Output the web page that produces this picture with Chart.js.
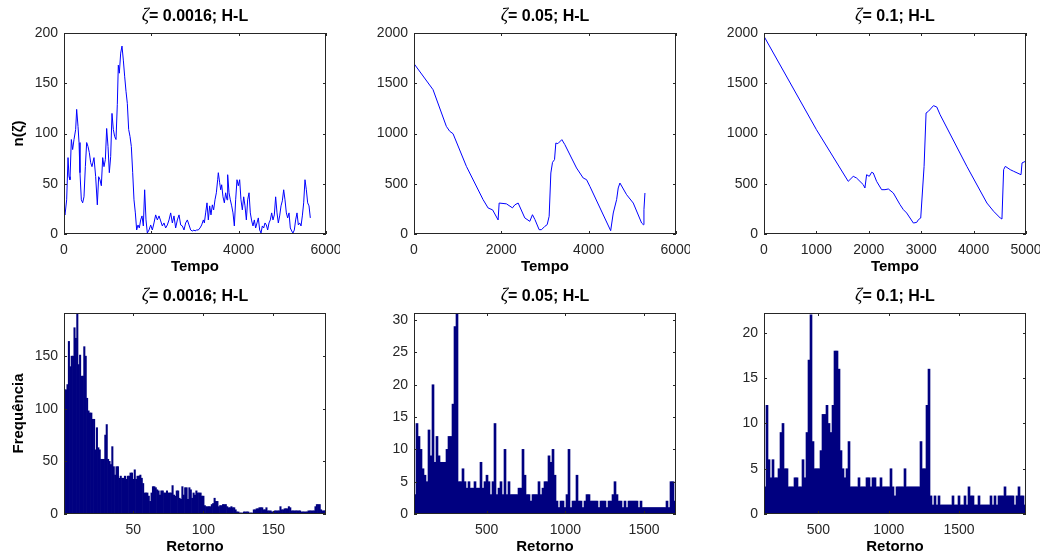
<!DOCTYPE html>
<html>
<head>
<meta charset="utf-8">
<script src="https://cdn.jsdelivr.net/npm/chart.js"></script>
<style>
  body { margin: 0; background: #fff; }
  #fig { position: relative; width: 1046px; height: 557px; overflow: hidden; font-family: "Liberation Sans", Arial, sans-serif; }
  #fig canvas { position: absolute; }
  .ttl { position: absolute; width: 262px; text-align: center; font-size: 16px; font-weight: bold; line-height: 18px; color: #000; white-space: nowrap; }
  .ttl i { font-family: "Liberation Serif", "DejaVu Serif", serif; font-weight: normal; font-size: 18px; }
</style>
</head>
<body>
<div id="fig">
  <canvas id="c1" width="340" height="280" style="left:0;top:0"></canvas>
  <canvas id="c2" width="340" height="280" style="left:350px;top:0"></canvas>
  <canvas id="c3" width="340" height="280" style="left:700px;top:0"></canvas>
  <canvas id="c4" width="340" height="280" style="left:0;top:280px"></canvas>
  <canvas id="c5" width="340" height="280" style="left:350px;top:280px"></canvas>
  <canvas id="c6" width="340" height="280" style="left:700px;top:280px"></canvas>
  <div class="ttl" style="left:64px;top:6px"><i>ζ</i>= 0.0016; H-L</div>
  <div class="ttl" style="left:414px;top:6px"><i>ζ</i>= 0.05; H-L</div>
  <div class="ttl" style="left:764px;top:6px"><i>ζ</i>= 0.1; H-L</div>
  <div class="ttl" style="left:64px;top:286px"><i>ζ</i>= 0.0016; H-L</div>
  <div class="ttl" style="left:414px;top:286px"><i>ζ</i>= 0.05; H-L</div>
  <div class="ttl" style="left:764px;top:286px"><i>ζ</i>= 0.1; H-L</div>
</div>
<script>
// ---- series temporais n(zeta) x Tempo (linha de cima) ----
const tempo1 = [0, 23, 61, 92, 115, 137, 168, 198, 229, 267, 290, 321, 344, 366, 397, 427, 458, 489, 519, 550,
  580, 611, 641, 687, 725, 763, 794, 824, 855, 886, 916, 947, 977, 1008, 1038, 1069, 1099, 1130, 1160, 1191,
  1221, 1244, 1267, 1298, 1328, 1359, 1389, 1420, 1450, 1481, 1512, 1542, 1573, 1603, 1634, 1664, 1695, 1725, 1756, 1786,
  1817, 1847, 1878, 1908, 1947, 1985, 2023, 2061, 2099, 2138, 2176, 2214, 2252, 2290, 2328, 2367, 2405, 2443, 2481, 2519,
  2557, 2596, 2634, 2672, 2710, 2748, 2786, 2825, 2863, 2901, 2939, 2977,
  3000, 3038, 3076, 3115, 3153, 3191, 3214, 3244, 3275, 3305, 3336, 3366, 3397, 3427, 3458, 3489, 3519, 3534, 3565, 3588,
  3611, 3641, 3672, 3702, 3733, 3748, 3779, 3809, 3840, 3870, 3901, 3931, 3962, 3992, 4023, 4053, 4084, 4115, 4145, 4176,
  4206, 4237, 4267, 4298, 4328, 4359, 4389, 4420, 4450, 4481, 4512, 4542, 4573, 4603, 4634, 4664, 4695, 4725, 4756, 4786,
  4817, 4847, 4878, 4908, 4939, 4970, 5000, 5031, 5061, 5092, 5122, 5153, 5183, 5214, 5244, 5275, 5305, 5336, 5367, 5397,
  5428, 5458, 5489, 5519, 5550, 5580, 5611, 5641];
const n1 = [22, 19, 34, 76, 57, 54, 94, 84, 94, 104, 124, 107, 91, 61, 34, 31, 37, 67, 91, 87,
  81, 71, 67, 76, 57, 29, 57, 54, 48, 76, 67, 74, 105, 87, 61, 77, 120, 104, 97, 94,
  129, 168, 160, 180, 187, 173, 157, 142, 130, 104, 97, 87, 61, 34, 21, 4, 9, 6, 14, 18,
  8, 44, 14, 1, 4, 9, 4, 11, 19, 14, 18, 13, 8, 11, 6, 9, 14, 21, 11, 18,
  6, 14, 19, 9, 8, 4, 11, 14, 9, 4, 3, 4,
  3, 4, 4, 6, 9, 14, 11, 21, 31, 14, 28, 19, 29, 24, 34, 41, 54, 61, 51, 44,
  49, 37, 31, 41, 34, 59, 41, 34, 28, 21, 8, 34, 54, 48, 54, 34, 24, 37, 28, 14,
  34, 41, 21, 13, 8, 14, 6, 11, 16, 4, 1, 8, 6, 11, 9, 4, 11, 14, 21, 14,
  19, 37, 21, 11, 18, 28, 33, 44, 34, 21, 16, 21, 6, 3, 1, 4, 14, 21, 9, 11,
  8, 18, 31, 54, 44, 31, 28, 16];

const tempo2 = [0, 436, 741, 818, 894, 1200, 1582, 1697, 1800, 1926, 1950, 2117, 2255, 2310, 2385, 2537, 2652, 2713, 2770, 2866,
  2920, 2996, 3050, 3095, 3134, 3172, 3218, 3248, 3294, 3386, 3455, 3722, 3875, 3951, 4028, 4504, 4563, 4640, 4677, 4716,
  4869, 5021, 5213, 5251, 5266, 5289];
const n2 = [1695, 1436, 1071, 1022, 998, 673, 342, 259, 240, 140, 308, 300, 260, 290, 308, 160, 126, 192, 143, 43,
  43, 76, 93, 176, 607, 713, 740, 905, 899, 939, 889, 657, 557, 541, 474, 33, 209, 342, 458, 507,
  391, 308, 109, 93, 242, 408];

const tempo3 = [0, 1001, 1607, 1703, 1767, 1894, 1926, 1958, 2009, 2054, 2086, 2149, 2245, 2309, 2373, 2468, 2596, 2660, 2723, 2851,
  2915, 2947, 2991, 3055, 3093, 3138, 3234, 3297, 3361, 3871, 4254, 4382, 4509, 4541, 4573, 4605, 4700, 4764, 4905, 4924, 4988];
const n3 = [1967, 1038, 524, 574, 557, 491, 458, 590, 574, 614, 607, 524, 441, 441, 448, 408, 292, 242, 209, 109,
  116, 143, 159, 673, 1204, 1221, 1277, 1264, 1187, 673, 308, 226, 159, 149, 640, 673, 640, 624, 590, 707, 723];

// ---- histogramas Frequência x Retorno (linha de baixo) ----
const freq1 = [118, 118, 123, 164, 140, 150, 150, 177, 167, 191, 142, 151, 131, 131, 159, 150, 110, 98, 96, 96,
  90, 90, 61, 82, 63, 61, 52, 52, 52, 75, 85, 52, 50, 47, 64, 45, 37, 45, 45, 34,
  36, 34, 34, 36, 33, 36, 36, 39, 39, 33, 42, 33, 36, 36, 37, 34, 29, 20, 20, 20,
  17, 12, 20, 26, 26, 25, 23, 22, 18, 22, 22, 20, 20, 22, 20, 20, 20, 27, 18, 17,
  22, 22, 15, 14, 26, 18, 25, 25, 14, 25, 23, 15, 20, 18, 22, 20, 20, 20, 17, 17,
  8, 7, 7, 7, 7, 9, 10, 15, 12, 12, 7, 8, 8, 9, 9, 9, 7, 6, 6, 7,
  6, 6, 4, 2, 2, 1, 1, 1, 2, 2, 2, 2, 1, 1, 1, 4, 4, 5, 5, 6,
  6, 6, 4, 4, 6, 3, 3, 3, 2, 2, 3, 3, 3, 3, 7, 4, 4, 5, 5, 5,
  7, 6, 3, 3, 3, 3, 3, 3, 3, 2, 2, 2, 2, 2, 3, 3, 3, 3, 3, 7,
  9, 9, 9, 4, 3, 3, 3];
const ret1 = { inicio: 0.5, largura: 1 };

const freq2 = [3, 14, 12, 10, 7, 6, 5, 13, 9, 20, 8, 12, 9, 8, 8, 8, 10, 12, 12, 17,
  29, 31, 5, 5, 7, 5, 4, 5, 4, 4, 5, 4, 4, 8, 4, 5, 6, 5, 3, 5,
  14, 3, 4, 5, 3, 10, 3, 5, 3, 3, 3, 3, 4, 4, 10, 6, 3, 3, 2, 3,
  3, 3, 5, 3, 4, 5, 5, 9, 8, 10, 6, 2, 1, 2, 2, 1, 3, 10, 1, 2,
  2, 6, 2, 2, 1, 2, 3, 3, 2, 2, 2, 2, 1, 2, 2, 2, 1, 2, 2, 3,
  5, 3, 2, 2, 1, 2, 1, 2, 2, 2, 2, 2, 1, 2, 1, 1, 1, 1, 1, 1,
  1, 1, 1, 1, 1, 1, 2, 1, 5, 5, 2];
const ret2 = { inicio: 38, largura: 12.71 };

const freq3 = [3, 12, 6, 4, 6, 4, 4, 5, 9, 10, 5, 5, 3, 3, 3, 4, 4, 3, 3, 6,
  4, 9, 17, 22, 8, 5, 5, 5, 7, 11, 11, 12, 10, 9, 12, 18, 18, 16, 7, 5,
  4, 5, 8, 3, 3, 3, 3, 4, 3, 3, 3, 4, 4, 3, 4, 4, 3, 3, 4, 3,
  3, 3, 3, 5, 3, 2, 3, 3, 3, 3, 5, 3, 3, 3, 3, 3, 3, 3, 8, 5,
  5, 12, 16, 2, 1, 2, 1, 2, 1, 1, 1, 1, 1, 1, 2, 1, 1, 2, 1, 1,
  2, 1, 3, 2, 2, 1, 1, 2, 1, 1, 1, 1, 1, 2, 1, 2, 1, 2, 2, 2,
  3, 2, 2, 2, 2, 1, 2, 3, 2, 2, 1];
const ret3 = { inicio: 114, largura: 14.21 };

// ---- marcas dos eixos ----
const tempoTicks12 = [0, 2000, 4000, 6000];
const tempoTicks3 = [0, 1000, 2000, 3000, 4000, 5000];
const nTicks1 = [0, 50, 100, 150, 200];
const nTicks23 = [0, 500, 1000, 1500, 2000];
const retTicks1 = [50, 100, 150];
const retTicks23 = [500, 1000, 1500];
const freqTicks1 = [0, 50, 100, 150];
const freqTicks2 = [0, 5, 10, 15, 20, 25, 30];
const freqTicks3 = [0, 5, 10, 15, 20];

Chart.defaults.font.family = '"Liberation Sans", Arial, sans-serif';
Chart.defaults.color = '#262626';
Chart.defaults.animation = false;

// moldura estilo MATLAB: caixa + marcas para dentro nos quatro lados
const moldura = {
  id: 'moldura',
  afterDatasetsDraw(chart) {
    const { ctx, chartArea: a, scales: { x, y } } = chart;
    const L = 3;
    ctx.save();
    ctx.strokeStyle = '#262626';
    ctx.lineWidth = 1;
    ctx.beginPath();
    x.ticks.forEach(t => {
      const px = Math.round(x.getPixelForValue(t.value)) + 0.5;
      ctx.moveTo(px, a.bottom); ctx.lineTo(px, a.bottom - L);
      ctx.moveTo(px, a.top); ctx.lineTo(px, a.top + L);
    });
    y.ticks.forEach(t => {
      const py = Math.round(y.getPixelForValue(t.value)) + 0.5;
      ctx.moveTo(a.left, py); ctx.lineTo(a.left + L, py);
      ctx.moveTo(a.right, py); ctx.lineTo(a.right - L, py);
    });
    ctx.stroke();
    ctx.strokeRect(Math.round(a.left) + 0.5, Math.round(a.top) + 0.5,
      Math.round(a.right - a.left) - 1, Math.round(a.bottom - a.top) - 1);
    ctx.restore();
  }
};

function eixos(xMin, xMax, xTicks, xTitulo, yMin, yMax, yTicks, yTitulo) {
  return {
    x: {
      type: 'linear', min: xMin, max: xMax, offset: false,
      grid: { display: false, drawTicks: false }, border: { display: false },
      ticks: { font: { size: 14 }, padding: 8, maxRotation: 0, autoSkip: false, callback: v => String(v) },
      afterBuildTicks: s => { s.ticks = xTicks.map(v => ({ value: v })); },
      afterFit: s => { s.height = 46; s.paddingLeft = 0; s.paddingRight = 0; },
      title: { display: true, text: xTitulo, color: '#000', font: { size: 15, weight: 'bold' }, padding: { top: 0, bottom: 4 } }
    },
    y: {
      min: yMin, max: yMax,
      grid: { display: false, drawTicks: false }, border: { display: false },
      ticks: { font: { size: 14 }, padding: 6, autoSkip: false, callback: v => String(v) },
      afterBuildTicks: s => { s.ticks = yTicks.map(v => ({ value: v })); },
      afterFit: s => { s.width = 64; s.paddingTop = 0; s.paddingBottom = 0; },
      title: { display: !!yTitulo, text: yTitulo, color: '#000', font: { size: 15, weight: 'bold' }, padding: { top: 10, bottom: 0 } }
    }
  };
}

const comum = {
  responsive: false,
  layout: { padding: { top: 33, right: 14, left: 0, bottom: 0 } },
  plugins: { legend: { display: false }, tooltip: { enabled: false } }
};

function serie(id, tempo, n, xMax, xTicks, yMax, yTicks, yTitulo) {
  new Chart(document.getElementById(id), {
    type: 'line',
    data: { datasets: [{
      data: tempo.map((t, i) => ({ x: t, y: n[i] })),
      borderColor: '#0000ff', borderWidth: 1, pointRadius: 0, tension: 0, fill: false
    }] },
    options: Object.assign({ scales: eixos(0, xMax, xTicks, 'Tempo', 0, yMax, yTicks, yTitulo) }, comum),
    plugins: [moldura]
  });
}

function histograma(id, freq, bins, xTicks, yMax, yTicks, yTitulo) {
  const xMax = bins.inicio + freq.length * bins.largura;
  new Chart(document.getElementById(id), {
    type: 'bar',
    data: { datasets: [{
      data: freq.map((f, i) => ({ x: bins.inicio + (i + 0.5) * bins.largura, y: f })),
      backgroundColor: '#000080', borderWidth: 0,
      barPercentage: 1, categoryPercentage: 1
    }] },
    options: Object.assign({ scales: eixos(bins.inicio, xMax, xTicks, 'Retorno', 0, yMax, yTicks, yTitulo) }, comum),
    plugins: [moldura]
  });
}

serie('c1', tempo1, n1, 6000, tempoTicks12, 200, nTicks1, 'n(ζ)');
serie('c2', tempo2, n2, 6000, tempoTicks12, 2000, nTicks23, '');
serie('c3', tempo3, n3, 5000, tempoTicks3, 2000, nTicks23, '');
histograma('c4', freq1, ret1, retTicks1, 191, freqTicks1, 'Frequência');
histograma('c5', freq2, ret2, retTicks23, 31.1, freqTicks2, '');
histograma('c6', freq3, ret3, retTicks23, 22.2, freqTicks3, '');
</script>
</body>
</html>
